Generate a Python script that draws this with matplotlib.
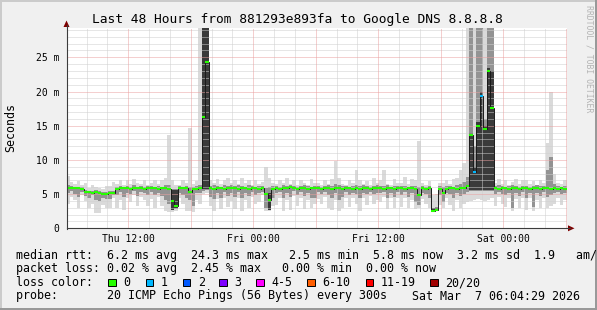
import numpy as np
import matplotlib
matplotlib.use('Agg')
import matplotlib.pyplot as plt
from matplotlib.patches import Rectangle, Polygon

# smokeping data, 20 minute bins over the last 48 hours, values in ms
median_ms = [
    5.9, 5.9, 5.9, 5.9, 5.8, 5.3, 5.3, 5.2, 5.3, 5.2, 5.0, 5.0,
    5.2, 5.2, 5.8, 5.9, 5.9, 5.9, 5.8, 5.9, 5.9, 5.9, 5.8, 5.9,
    5.9, 5.9, 5.8, 5.9, 5.9, 5.8, 4.0, 3.2, 5.9, 5.9, 5.9, 5.3,
    5.7, 5.8, 5.9, 16.2, 24.3, 5.9, 5.8, 5.9, 5.9, 5.8, 5.9, 5.9,
    5.9, 5.8, 5.9, 5.9, 5.8, 5.9, 5.9, 5.8, 5.9, 5.0, 4.1, 5.8,
    5.9, 5.8, 5.9, 5.9, 6.0, 5.9, 5.8, 5.9, 5.9, 5.8, 5.9, 5.9,
    5.9, 5.8, 5.9, 5.9, 5.8, 5.9, 5.9, 5.8, 5.9, 5.9, 5.8, 5.9,
    5.8, 5.9, 5.9, 5.8, 5.9, 5.9, 5.9, 5.8, 5.9, 5.9, 5.8, 5.9,
    5.9, 5.8, 5.9, 5.9, 5.8, 4.9, 5.9, 5.8, 5.9, 2.6, 2.7, 5.8,
    5.2, 5.8, 5.9, 5.9, 5.8, 5.9, 5.9, 6.2, 13.7, 8.2, 15.0, 19.4,
    14.5, 23.0, 17.6, 5.9, 5.8, 5.9, 5.9, 5.8, 5.9, 5.9, 5.8, 5.9,
    5.9, 5.8, 5.9, 5.9, 5.8, 5.9, 5.9, 5.8, 5.9, 5.8, 5.9, 5.8,
]
smoke_min = [
    3.6, 4.6, 4.2, 3.0, 4.8, 4.0, 2.9, 3.6, 2.3, 2.2, 3.4, 2.9,
    3.0, 4.5, 2.9, 4.2, 2.7, 4.4, 3.8, 4.9, 3.2, 4.6, 4.1, 3.3,
    4.3, 3.0, 4.6, 3.2, 2.6, 2.4, 2.4, 2.6, 4.4, 3.6, 2.6, 2.5,
    2.4, 4.2, 3.6, 5.0, 5.1, 3.2, 2.6, 4.3, 2.8, 4.5, 3.1, 4.0,
    2.8, 4.4, 2.6, 4.1, 3.0, 4.6, 3.6, 3.9, 4.8, 2.6, 2.5, 3.2,
    3.4, 4.5, 2.6, 4.2, 2.7, 4.7, 3.2, 4.4, 2.8, 4.1, 3.0, 3.6,
    4.3, 3.6, 4.6, 3.0, 2.7, 4.2, 2.5, 2.9, 4.5, 3.1, 4.4, 3.5,
    2.6, 4.4, 3.4, 4.7, 3.5, 4.2, 3.8, 4.6, 2.8, 4.4, 3.0, 4.5,
    3.1, 4.5, 2.9, 4.2, 2.8, 2.9, 4.3, 3.6, 3.0, 2.5, 2.5, 3.4,
    3.0, 4.4, 3.4, 2.6, 4.2, 3.0, 3.5, 3.8, 4.0, 4.2, 4.3, 4.1,
    4.0, 4.2, 4.5, 3.3, 4.6, 3.5, 3.1, 4.4, 2.6, 4.3, 3.0, 4.5,
    2.7, 4.4, 2.6, 4.2, 3.0, 4.5, 2.9, 3.2, 3.6, 4.4, 3.4, 4.2,
]
smoke_lo = [
    5.2, 5.4, 5.0, 4.6, 5.3, 4.7, 4.4, 4.8, 4.1, 4.0, 4.5, 4.3,
    4.3, 4.8, 4.9, 5.3, 4.6, 5.2, 5.0, 5.4, 4.7, 5.3, 5.1, 4.9,
    5.3, 4.8, 5.2, 4.7, 4.2, 3.6, 3.0, 2.8, 5.2, 4.9, 4.4, 4.1,
    3.2, 5.2, 5.1, 5.5, 5.6, 4.6, 4.3, 5.2, 4.5, 5.3, 4.7, 5.1,
    4.6, 5.3, 4.5, 5.2, 4.7, 5.3, 4.9, 5.1, 5.3, 3.0, 2.7, 4.5,
    5.1, 5.3, 4.5, 5.2, 4.6, 5.4, 4.9, 5.3, 4.7, 5.2, 4.5, 4.4,
    5.3, 5.0, 5.3, 4.8, 4.5, 5.1, 4.2, 4.6, 5.3, 4.8, 5.2, 5.0,
    4.5, 5.2, 5.0, 5.3, 5.0, 5.2, 5.1, 5.3, 4.4, 5.2, 4.6, 5.3,
    4.8, 5.3, 4.6, 5.1, 3.8, 3.4, 5.2, 5.0, 4.5, 2.5, 2.5, 4.9,
    3.9, 5.2, 5.0, 4.4, 5.2, 4.7, 5.0, 5.3, 5.4, 5.5, 5.5, 5.4,
    5.4, 5.5, 5.5, 5.0, 5.3, 5.0, 4.8, 5.2, 3.0, 5.1, 4.7, 5.3,
    4.4, 5.2, 3.1, 5.2, 4.7, 5.3, 4.6, 4.9, 5.1, 5.3, 5.0, 5.2,
]
smoke_hi = [
    6.3, 6.2, 6.1, 6.1, 6.0, 5.6, 5.5, 5.5, 5.6, 5.5, 5.3, 5.3,
    5.5, 5.5, 6.1, 6.2, 6.1, 6.2, 6.1, 6.3, 6.1, 6.2, 6.1, 6.2,
    6.2, 6.1, 6.2, 6.1, 6.3, 6.4, 5.7, 5.8, 6.2, 6.1, 6.2, 6.0,
    6.1, 6.2, 6.3, 35, 35, 6.2, 6.3, 6.2, 6.1, 6.3, 6.2, 6.4,
    6.2, 6.3, 6.2, 6.1, 6.3, 6.2, 6.1, 6.2, 6.2, 5.9, 6.1, 6.2,
    6.2, 6.1, 6.3, 6.2, 6.3, 6.2, 6.1, 6.2, 6.3, 6.2, 6.1, 6.2,
    6.2, 6.1, 6.2, 6.3, 6.2, 6.5, 6.3, 6.2, 6.2, 6.1, 6.2, 6.3,
    6.2, 6.3, 6.2, 6.1, 6.2, 6.3, 6.2, 6.2, 6.3, 6.1, 6.2, 6.2,
    6.2, 6.2, 6.1, 6.2, 6.2, 6.1, 6.2, 6.1, 6.2, 3.0, 3.1, 6.2,
    6.1, 6.2, 6.2, 6.1, 6.3, 6.5, 6.8, 7.5, 35, 12.0, 35, 35,
    16.0, 35, 35, 6.2, 6.3, 6.2, 6.1, 6.2, 6.3, 6.2, 6.1, 6.2,
    6.2, 6.1, 6.2, 6.3, 6.2, 6.2, 8.5, 10.4, 6.5, 6.2, 6.1, 6.2,
]
smoke_max = [
    7.6, 6.8, 6.5, 6.9, 6.3, 6.6, 5.9, 6.4, 6.1, 5.9, 5.8, 6.2,
    6.2, 6.8, 6.5, 7.0, 6.4, 7.1, 6.5, 7.2, 6.6, 6.5, 7.0, 6.4,
    6.6, 7.0, 6.5, 7.1, 7.4, 13.6, 7.0, 6.3, 6.4, 7.0, 6.6, 14.7,
    6.5, 6.9, 35, 35, 35, 7.1, 6.6, 7.2, 6.5, 7.0, 7.3, 6.6,
    7.1, 6.5, 7.3, 6.6, 7.0, 6.4, 7.1, 6.5, 6.8, 9.0, 7.4, 6.6,
    6.5, 7.1, 6.6, 7.3, 6.5, 7.0, 6.4, 7.1, 6.6, 6.4, 7.2, 6.6,
    6.6, 6.4, 7.1, 6.5, 7.2, 9.9, 7.3, 6.5, 6.4, 7.1, 6.6, 8.5,
    7.0, 6.5, 6.9, 6.4, 7.3, 6.6, 7.1, 8.5, 6.5, 6.4, 7.2, 6.6,
    6.6, 7.5, 6.5, 7.2, 7.1, 12.8, 6.6, 6.4, 6.9, 4.9, 5.0, 6.6,
    6.6, 7.1, 6.5, 7.2, 7.4, 8.5, 9.5, 35, 35, 35, 35, 35,
    35, 35, 35, 6.6, 7.2, 6.5, 7.1, 6.4, 6.8, 7.2, 6.5, 7.1,
    7.0, 6.5, 6.9, 6.4, 7.0, 6.6, 12.5, 20.0, 8.0, 6.6, 6.5, 7.0,
]
# darkest part of the smoke, only where it stands out
core_bins = [30, 31, 39, 40, 58, 105, 106, 116, 117, 118, 119, 120, 121, 122]
core_lo = [2.7, 2.9, 5.7, 5.7, 2.7, 2.5, 2.5, 5.6, 5.6, 5.6, 5.6, 5.6, 5.6, 5.6]
core_hi = [5.6, 5.6, 35, 35, 5.2, 2.9, 2.9, 14.0, 9.0, 15.5, 20.0, 15.0, 23.5, 23.0]
# bins where one of 20 pings was lost
loss_bins = [117, 119]
loss_count = [1, 1]

loss_labels = ['0', '1', '2', '3', '4-5', '6-10', '11-19', '20/20']
loss_colors = ['#26ff00', '#00b8ff', '#0059ff', '#7e00ff', '#ff00ff',
               '#ff5e00', '#ff0000', '#a10000']

xtick_hours = [12, 24, 36, 48]          # hours after Thu 00:00
xtick_labels = ['Thu 12:00', 'Fri 00:00', 'Fri 12:00', 'Sat 00:00']
ytick_values = [0, 5, 10, 15, 20, 25]
ytick_labels = ['0', '5 m', '10 m', '15 m', '20 m', '25 m']

start_hour = 6 + 4 / 60 + 29 / 3600    # Thu 06:04:29
span_hours = 48
bin_hours = 20 / 60

W, H = 597, 310
MONO = 'DejaVu Sans Mono'

fig = plt.figure(figsize=(W / 100, H / 100), dpi=100)
fig.patch.set_facecolor('#f0f0f0')

# plot canvas: x 66.5..566.5, y 28.3..228.3 px
ax = fig.add_axes([66.5 / W, (H - 228.3) / H, 500 / W, 200 / H])
ax.set_facecolor('white')
ax.set_xlim(0, span_hours)
ax.set_ylim(0, 29.24)
for s in ax.spines.values():
    s.set_visible(False)

edges = np.arange(len(median_ms) + 1) * bin_hours

# smoke
ax.stairs(smoke_max, edges, baseline=smoke_min, fill=True, color='#dadada', lw=0, zorder=1)
ax.stairs(smoke_hi, edges, baseline=smoke_lo, fill=True, color='#939393', lw=0, zorder=1.1)
for b, lo, hi in zip(core_bins, core_lo, core_hi):
    ax.fill_between([edges[b], edges[b + 1]], lo, hi, color='#3a3a3a', lw=0, zorder=1.2)

# grid on top of the smoke (rrdtool style)
dot = (0, (1, 1))
minor_h = [v for v in range(1, 30) if v % 5]
major_h = [v for v in range(5, 30, 5)]
ax.hlines(minor_h, 0, span_hours, colors='#cfcfcf', lw=0.72, linestyles=[dot], zorder=2)
ax.hlines(major_h, 0, span_hours, colors='#eba0a0', lw=0.72, linestyles=[dot], zorder=2.1)
grid_hours = np.arange(8, start_hour + span_hours, 2)
minor_v = [h - start_hour for h in grid_hours if h % 6]
major_v = [h - start_hour for h in grid_hours if h % 6 == 0]
ax.vlines(minor_v, 0, 29.24, colors='#cfcfcf', lw=0.72, linestyles=[dot], zorder=2)
ax.vlines(major_v, 0, 29.24, colors='#eba0a0', lw=0.72, linestyles=[dot], zorder=2.1)

# median rtt, coloured by packet loss
seg_colors = [loss_colors[0]] * len(median_ms)
for b, n in zip(loss_bins, loss_count):
    seg_colors[b] = loss_colors[n]
ax.stairs(median_ms, edges, baseline=None, color='#1a1a1a', lw=0.7, zorder=3)
ax.hlines(median_ms, edges[:-1], edges[1:], colors=seg_colors, lw=1.5, zorder=3.1)

ax.set_xticks([h - start_hour for h in xtick_hours])
ax.set_xticklabels(xtick_labels, family=MONO, fontsize=7)
ax.set_yticks(ytick_values)
ax.set_yticklabels(ytick_labels, family=MONO, fontsize=7)
ax.tick_params(axis='x', length=0, pad=4.2)
ax.tick_params(axis='y', length=0, pad=5.0)

# overlay in pixel coordinates for frame, axes, arrows and legend
ov = fig.add_axes([0, 0, 1, 1], facecolor='none')
ov.set_xlim(0, W)
ov.set_ylim(H, 0)
ov.axis('off')

ov.add_patch(Rectangle((0, 0), W, 2, color='#cbcbcb', lw=0))
ov.add_patch(Rectangle((0, 0), 2, H, color='#cbcbcb', lw=0))
ov.add_patch(Rectangle((0, H - 2), W, 2, color='#999999', lw=0))
ov.add_patch(Rectangle((W - 2, 0), 2, H, color='#999999', lw=0))

axis_col = '#3c3c3c'
ov.plot([66.5, 66.5], [228.8, 25], color=axis_col, lw=0.8)
ov.plot([66.5, 570], [228.3, 228.3], color=axis_col, lw=0.8)
ov.add_patch(Polygon([(63.5, 27), (69.5, 27), (66.5, 20.5)], color='#7f0000', lw=0))
ov.add_patch(Polygon([(568, 225.3), (568, 231.3), (574.5, 228.3)], color='#7f0000', lw=0))

ov.text(297.5, 19, 'Last 48 Hours from 881293e893fa to Google DNS 8.8.8.8',
        ha='center', va='center', family=MONO, fontsize=9.3)
ov.text(10.5, 127.5, 'Seconds', rotation=90, ha='center', va='center',
        family=MONO, fontsize=8.4)
ov.text(589, 5, 'RRDTOOL / TOBI OETIKER', rotation=270, ha='center', va='top',
        family=MONO, fontsize=5.9, color='#b4b4b4')

fs = 8.4
# the reference cuts this line at the right edge as well
ov.text(16, 255, 'median rtt:  6.2 ms avg  24.3 ms max   2.5 ms min  5.8 ms now  3.2 ms sd  1.9   am/s',
        ha='left', va='center', family=MONO, fontsize=fs)
ov.text(16, 268.5, 'packet loss: 0.02 % avg  2.45 % max   0.00 % min  0.00 % now',
        ha='left', va='center', family=MONO, fontsize=fs)
ov.text(16, 282.5, 'loss color:', ha='left', va='center', family=MONO, fontsize=fs)
sq_x = [108.3, 145.7, 182.7, 219.3, 256, 307.3, 365.7, 430]
for x0, lab, col in zip(sq_x, loss_labels, loss_colors):
    ov.add_patch(Rectangle((x0, 278.5), 7.7, 7.7, facecolor=col, edgecolor='black', lw=0.7))
    ov.text(x0 + 15, 282.5, lab, ha='left', va='center', family=MONO, fontsize=fs)
ov.text(16, 296, 'probe:       20 ICMP Echo Pings (56 Bytes) every 300s',
        ha='left', va='center', family=MONO, fontsize=fs)
ov.text(580, 296, 'Sat Mar  7 06:04:29 2026', ha='right', va='center', family=MONO, fontsize=fs)

fig.savefig('out.png', dpi=100, facecolor=fig.get_facecolor())
